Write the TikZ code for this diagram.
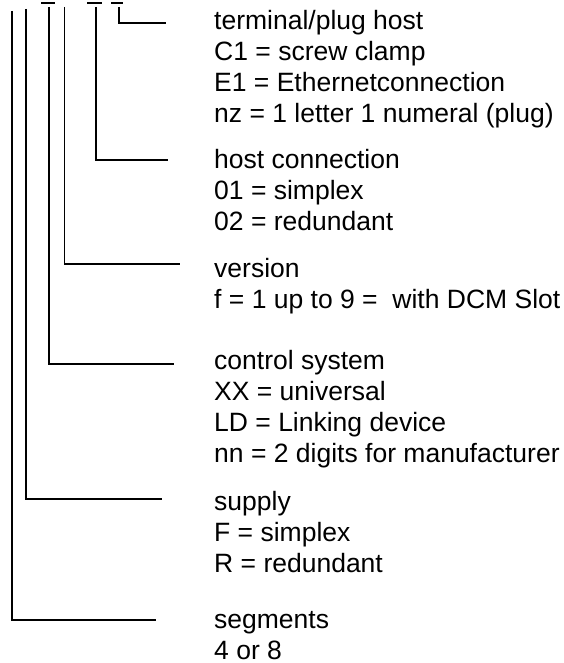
\documentclass[tikz,border=0pt]{standalone}
\usepackage{fontspec}
\setmainfont{Liberation Sans}

\tikzset{
  lead/.style={line width=1.6pt},
  legend/.style={anchor=north west, align=left, inner sep=0pt,
    font=\fontsize{26.5}{31}\selectfont}
}

\begin{document}
\begin{tikzpicture}[x=1pt,y=-1pt]
	\useasboundingbox (0,0) rectangle (563,663);
	% tops of the code positions
	\coordinate (seg) at (12,11);
	\coordinate (sup) at (26,9);
	\coordinate (ctl) at (49,7);
	\coordinate (ver) at (64.5,7);
	\coordinate (hst) at (96,7);
	\coordinate (trm) at (119,7);
	% free ends of the leaders
	\coordinate (segend) at (156,620);
	\coordinate (supend) at (162,499);
	\coordinate (ctlend) at (174,364);
	\coordinate (verend) at (180,264);
	\coordinate (hstend) at (168,160);
	\coordinate (trmend) at (166,23);
	% bars over the positions
	\draw[lead] (41,3) -- (55,3);
	\draw[lead] (87,3) -- (102,3);
	\draw[lead] (111,3) -- (123,3);
	\draw[lead] (seg) |- (segend);
	\draw[lead] (sup) |- (supend);
	\draw[lead] (ctl) |- (ctlend);
	\draw[lead] (ver) |- (verend);
	\draw[lead] (hst) |- (hstend);
	\draw[lead] (trm) |- (trmend);
	\node[legend] (trmtxt) at (214,10) {terminal/plug host\\C1 = screw clamp\\E1 = Ethernetconnection\\nz = 1 letter 1 numeral (plug)};
	\node[legend] (hsttxt) at (214,149) {host connection\\01 = simplex\\02 = redundant};
	\node[legend] (vertxt) at (214,258) {version\\f = 1 up to 9 =\ \ with DCM Slot};
	\node[legend] (ctltxt) at (214,350) {control system\\XX = universal\\LD = Linking device\\nn = 2 digits for manufacturer};
	\node[legend] (suptxt) at (214,491) {supply\\F = simplex\\R = redundant};
	\node[legend] (segtxt) at (214,611) {segments\\4 or 8};
\end{tikzpicture}
\end{document}
